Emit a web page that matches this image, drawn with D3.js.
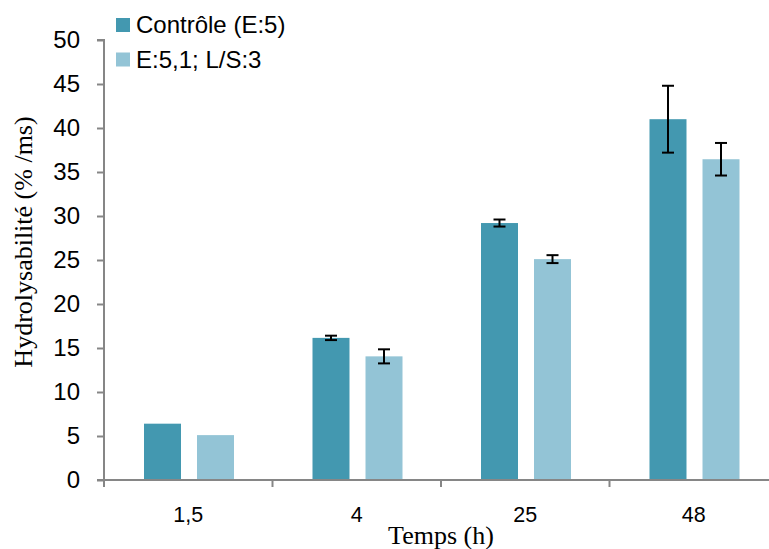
<!DOCTYPE html>
<html><head><meta charset="utf-8">
<script src="https://cdn.jsdelivr.net/npm/d3@7"></script>
<style>html,body{margin:0;padding:0;background:#fff;}</style>
</head><body>
<svg id="chart" width="769" height="549"></svg>
<script>
const categories = ["1,5", "4", "25", "48"];
const seriesNames = ["Contrôle (E:5)", "E:5,1; L/S:3"];
const controlValues = [6.4, 16.15, 29.2, 41.0];
const controlErrors = [0, 0.25, 0.4, 3.8];
const treatedValues = [5.1, 14.05, 25.1, 36.45];
const treatedErrors = [0, 0.8, 0.45, 1.85];
const yTicks = [0, 5, 10, 15, 20, 25, 30, 35, 40, 45, 50];
const colors = ["#4398B0", "#93C4D6"];

(function () {
const svg = d3.select("#chart");
const plotLeft = 104, plotRight = 778, plotTop = 40, plotBottom = 480;

const y = d3.scaleLinear().domain([0, 50]).range([plotBottom, plotTop]);
const x0 = d3.scaleBand().domain(categories).range([plotLeft, plotRight]).padding(0);
const x1 = d3.scaleBand().domain(seriesNames).range([40, 130]).paddingInner(0.302).paddingOuter(0);

const allSeries = [
  {name: seriesNames[0], values: controlValues, errors: controlErrors, color: colors[0]},
  {name: seriesNames[1], values: treatedValues, errors: treatedErrors, color: colors[1]}
];

// bars
allSeries.forEach(s => {
  const g = svg.append("g");
  g.selectAll("rect").data(categories).enter().append("rect")
    .attr("x", (c) => x0(c) + x1(s.name))
    .attr("y", (c, i) => y(s.values[i]))
    .attr("width", x1.bandwidth())
    .attr("height", (c, i) => plotBottom - y(s.values[i]))
    .attr("fill", s.color);
});

// error bars
allSeries.forEach(s => {
  categories.forEach((c, i) => {
    if (!s.errors[i]) return;
    const cx = x0(c) + x1(s.name) + x1.bandwidth() / 2;
    const y1 = y(s.values[i] + s.errors[i]), y2 = y(s.values[i] - s.errors[i]);
    const g = svg.append("g").attr("stroke", "#000").attr("stroke-width", 2);
    g.append("line").attr("x1", cx).attr("x2", cx).attr("y1", y1).attr("y2", y2);
    g.append("line").attr("x1", cx - 6).attr("x2", cx + 6).attr("y1", y1).attr("y2", y1);
    g.append("line").attr("x1", cx - 6).attr("x2", cx + 6).attr("y1", y2).attr("y2", y2);
  });
});

// y axis
const yAxis = d3.axisLeft(y).tickValues(yTicks).tickSize(7).tickPadding(17).tickFormat(d3.format("d"));
const gy = svg.append("g").attr("transform", `translate(${plotLeft},0)`).call(yAxis);
gy.select(".domain").attr("stroke", "#868686").attr("stroke-width", 2).attr("d", `M-7,${plotTop}H0V${plotBottom}`);
gy.selectAll(".tick line").attr("stroke", "#868686").attr("stroke-width", 2);
gy.selectAll(".tick text").attr("font-family", "'Liberation Sans', Arial, sans-serif").attr("font-size", 24).attr("fill", "#000");

// x axis
const xAxis = d3.axisBottom(x0).tickValues([]).tickSize(0);
const gx = svg.append("g").attr("transform", `translate(0,${plotBottom})`).call(xAxis);
gx.select(".domain").attr("stroke", "#868686").attr("stroke-width", 2).attr("d", `M${plotLeft - 7},0H${plotRight}`);
const boundaries = categories.map(c => x0(c)).concat([plotRight]);
gx.selectAll("line.b").data(boundaries).enter().append("line").attr("class", "b")
  .attr("x1", d => d).attr("x2", d => d).attr("y1", 0).attr("y2", 7)
  .attr("stroke", "#868686").attr("stroke-width", 2);
gx.selectAll("text.cat").data(categories).enter().append("text").attr("class", "cat")
  .attr("x", d => x0(d) + x0.bandwidth() / 2).attr("y", 42)
  .attr("text-anchor", "middle")
  .attr("font-family", "'Liberation Sans', Arial, sans-serif").attr("font-size", 21.5).attr("fill", "#000")
  .text(d => d);

// axis titles
svg.append("text").attr("x", 441).attr("y", 544).attr("text-anchor", "middle")
  .attr("font-family", "'Liberation Serif', 'Times New Roman', serif").attr("font-size", 26)
  .text("Temps (h)");
svg.append("text").attr("transform", "translate(32,242) rotate(-90)").attr("text-anchor", "middle")
  .attr("font-family", "'Liberation Serif', 'Times New Roman', serif").attr("font-size", 26)
  .text("Hydrolysabilité (% /ms)");

// legend
const lg = svg.append("g");
allSeries.forEach((s, i) => {
  lg.append("rect").attr("x", 116).attr("y", 18 + i * 34.5).attr("width", 14).attr("height", 14).attr("fill", s.color);
  lg.append("text").attr("x", 136).attr("y", 33 + i * 34.5)
    .attr("font-family", "'Liberation Sans', Arial, sans-serif").attr("font-size", 24).attr("fill", "#000")
    .text(s.name);
});
})();
</script>
</body></html>
